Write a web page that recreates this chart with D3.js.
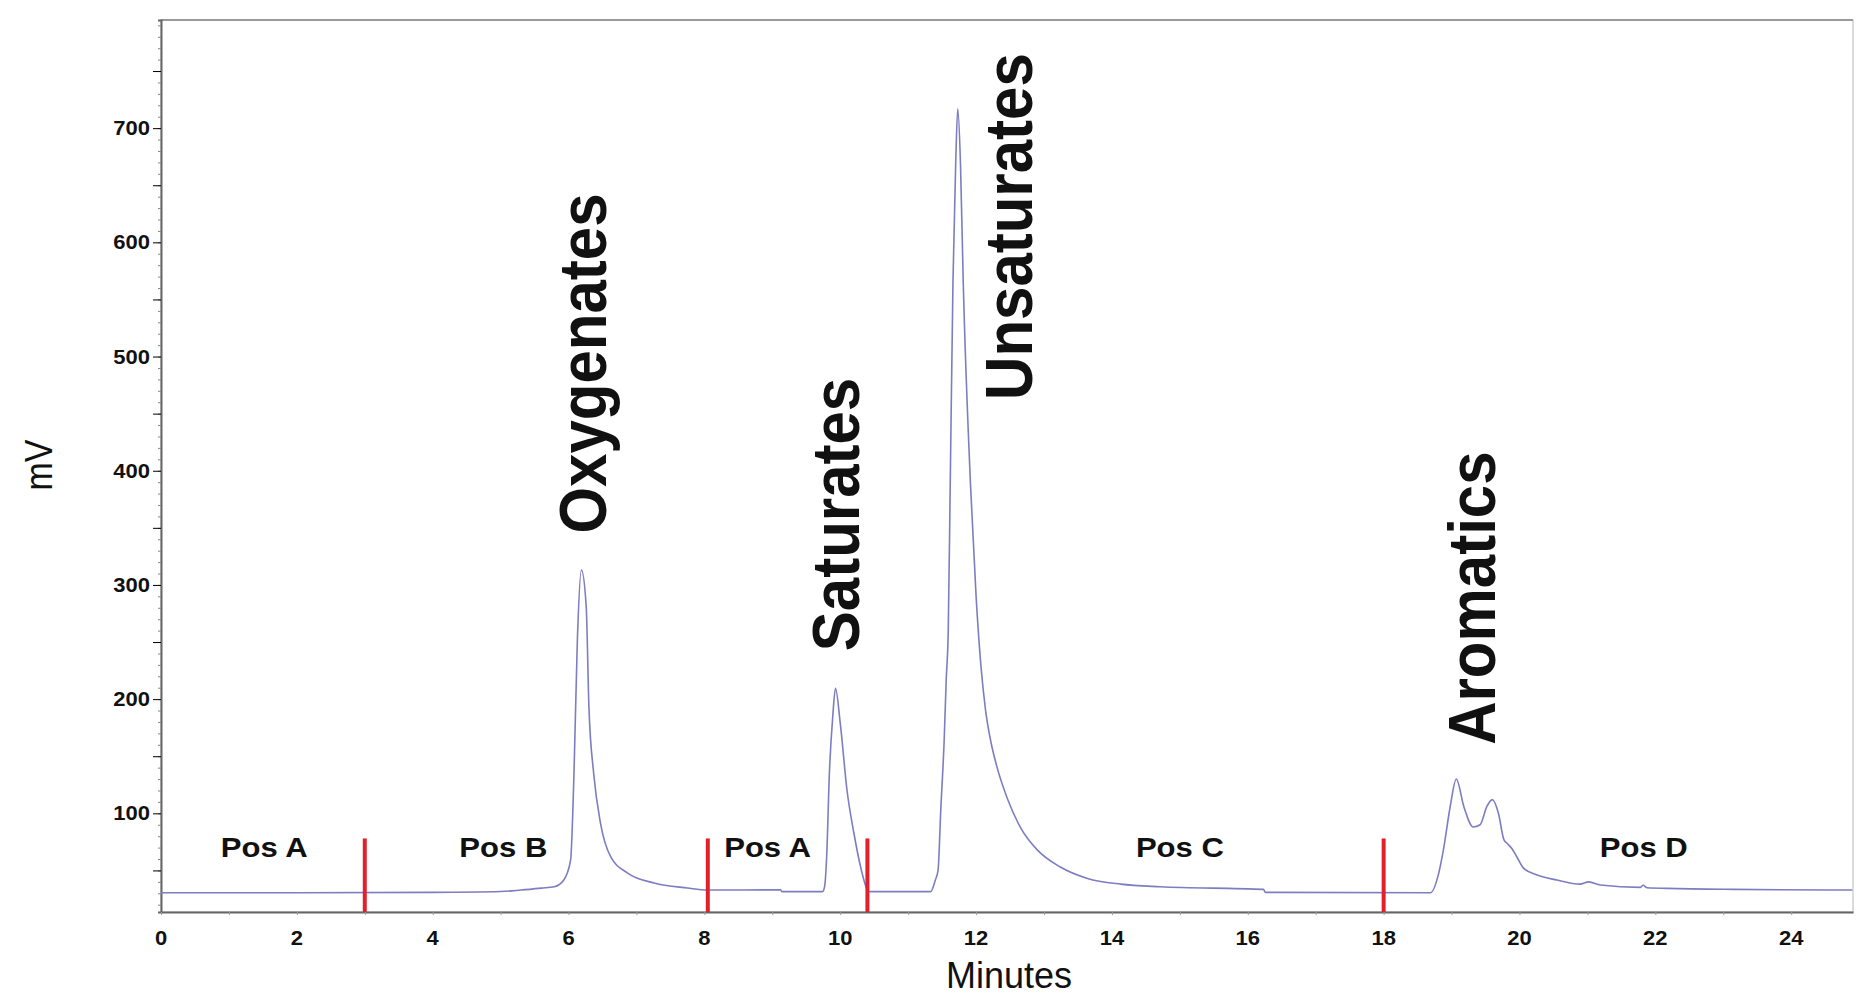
<!DOCTYPE html>
<html>
<head>
<meta charset="utf-8">
<script src="https://cdnjs.cloudflare.com/ajax/libs/d3/7.8.5/d3.min.js"></script>
<style>
  body { margin: 0; background: #fff; }
  text { font-family: "Liberation Sans", Arial, sans-serif; fill: #111; }
</style>
</head>
<body>
<div id="svg-container"></div>
<script>
// detector trace: time (min) and signal (mV)
const minutes = [0, 2, 4, 5, 5.3, 5.6, 5.79, 5.93, 6.03, 6.08, 6.13, 6.19, 6.26, 6.3, 6.37, 6.47, 6.62, 6.87, 7.26, 7.75, 8.04, 9.12, 9.14, 9.74,
  9.77, 9.8, 9.84, 9.89, 9.93, 10.0, 10.1, 10.2, 10.3, 10.4, 10.43, 11.33, 11.4, 11.44, 11.48, 11.53, 11.56, 11.59, 11.62, 11.66, 11.7, 11.73,
  11.77, 11.81, 11.92, 12.0, 12.07, 12.14, 12.22, 12.31, 12.46, 12.65, 12.9, 13.24, 13.64, 14.13, 14.71, 16.23, 16.26, 18.69, 18.8, 18.88, 18.98, 19.07,
  19.18, 19.32, 19.42, 19.52, 19.6, 19.69, 19.77, 19.83, 19.89, 19.96, 20.06, 20.26, 20.55, 20.89, 21.02, 21.19, 21.78, 21.82, 21.88, 22.17,
  23.15, 24.9];
const mV = [30.5, 30.5, 30.8, 31.5, 32.8, 34.5, 35.7, 41.6, 59, 135, 252, 313, 281, 193, 135, 91.5, 62, 47.7, 39, 34.6, 32.8, 33, 31.4, 31.4,
  36, 62, 135, 185, 209.5, 179, 120, 83, 53, 33, 31.4, 31.4, 41.6, 50, 103, 164, 217, 260, 392, 567, 670, 717,
  669, 567, 385, 290, 230, 190, 162, 140, 113, 88, 68, 53, 43, 38, 35.7, 33.4, 30.8, 30.5, 45, 68, 106, 130,
  106, 88, 90, 106, 112, 100, 77, 73, 69, 62, 52, 46, 41.6, 38, 40, 37.2, 35.2, 37, 34.8, 34.3,
  33.4, 32.8];

// axis ticks
const xTicks = [0, 2, 4, 6, 8, 10, 12, 14, 16, 18, 20, 22, 24];
const yTicks = [100, 200, 300, 400, 500, 600, 700];

// valve switch marks (red bars)
const switchTimes = [3, 8.05, 10.4, 18];
const switchTop = 78;

// valve position labels
const posNames = ["Pos A", "Pos B", "Pos A", "Pos C", "Pos D"];
const posTimes = [1.52, 5.04, 8.93, 15.0, 21.83];
const posLevel = 62;

// peak group labels (rotated)
const peakNames = ["Oxygenates", "Saturates", "Unsaturates", "Aromatics"];
const peakTimes = [6.55, 10.27, 12.83, 19.64];
const peakLevels = [345, 242, 462, 160];

const width = 1860;
const height = 997;
const margin = {top: 20, right: 7, bottom: 85, left: 161};

const svg = d3.select("#svg-container")
    .append("svg")
    .attr("width", width)
    .attr("height", height);

const x = d3.scaleLinear()
    .domain([0, 24.91])
    .range([margin.left, width - margin.right]);

const y = d3.scaleLinear()
    .domain([13.6, 794.7])
    .range([height - margin.bottom, margin.top]);

// frame
svg.append("rect")
    .attr("x", margin.left)
    .attr("y", margin.top)
    .attr("width", width - margin.right - margin.left)
    .attr("height", height - margin.bottom - margin.top)
    .attr("fill", "none")
    .attr("stroke", "#d0d0d0")
    .attr("stroke-width", 1.5);
svg.append("line")
    .attr("x1", margin.left).attr("x2", width - margin.right)
    .attr("y1", margin.top).attr("y2", margin.top)
    .attr("stroke", "#999")
    .attr("stroke-width", 2);

// left axis: minor ticks every 10 mV, bigger every 50
const yAxis = svg.append("g")
    .attr("transform", `translate(${margin.left},0)`)
    .call(d3.axisLeft(y).tickValues(d3.range(20, 795, 10)).tickSize(3).tickFormat(""));
svg.append("g")
    .attr("transform", `translate(${margin.left},0)`)
    .call(d3.axisLeft(y).tickValues(d3.range(50, 795, 50)).tickSize(8).tickFormat(""))
    .select(".domain").remove();
yAxis.selectAll("line").attr("stroke", "#888");
yAxis.select(".domain").attr("stroke", "#666").attr("stroke-width", 2);

// bottom axis
const xAxis = svg.append("g")
    .attr("transform", `translate(0,${height - margin.bottom})`)
    .call(d3.axisBottom(x).tickValues(d3.range(0, 25, 1)).tickSize(3).tickFormat("").tickSizeOuter(0));
xAxis.selectAll("line").attr("stroke", "#999");
xAxis.select(".domain").attr("stroke", "#666").attr("stroke-width", 2);

// tick labels
svg.append("g").selectAll("text")
    .data(yTicks)
    .join("text")
    .attr("transform", d => `translate(150,${y(d) + 7}) scale(1.1,1)`)
    .attr("text-anchor", "end")
    .attr("font-size", 20)
    .attr("font-weight", "bold")
    .text(d => d);

svg.append("g").selectAll("text")
    .data(xTicks)
    .join("text")
    .attr("transform", d => `translate(${x(d)},945) scale(1.1,1)`)
    .attr("text-anchor", "middle")
    .attr("font-size", 20)
    .attr("font-weight", "bold")
    .text(d => d);

// axis titles
svg.append("text")
    .attr("transform", "translate(52,465) scale(1.12,1) rotate(-90)")
    .attr("text-anchor", "middle")
    .attr("font-size", 34)
    .text("mV");

svg.append("text")
    .attr("x", 1009)
    .attr("y", 988)
    .attr("text-anchor", "middle")
    .attr("font-size", 36)
    .text("Minutes");

// trace
const trace = minutes.map((t, i) => ({t: t, v: mV[i]}));
const line = d3.line()
    .x(d => x(d.t))
    .y(d => y(d.v))
    .curve(d3.curveMonotoneX);

svg.append("path")
    .datum(trace)
    .attr("fill", "none")
    .attr("stroke", "#7d7dc2")
    .attr("stroke-width", 1.6)
    .attr("d", line);

// valve switch bars
svg.append("g").selectAll("line")
    .data(switchTimes)
    .join("line")
    .attr("x1", d => x(d))
    .attr("x2", d => x(d))
    .attr("y1", y(switchTop))
    .attr("y2", height - margin.bottom)
    .attr("stroke", "#e0202c")
    .attr("stroke-width", 4);

// position labels
svg.append("g").selectAll("text")
    .data(posNames)
    .join("text")
    .attr("transform", (d, i) => `translate(${x(posTimes[i])},${y(posLevel)}) scale(1.15,1)`)
    .attr("text-anchor", "middle")
    .attr("font-size", 27)
    .attr("font-weight", "bold")
    .text(d => d);

// peak labels
svg.append("g").selectAll("text")
    .data(peakNames)
    .join("text")
    .attr("transform", (d, i) => `translate(${x(peakTimes[i])},${y(peakLevels[i])}) scale(1.12,1) rotate(-90)`)
    .attr("font-size", 60)
    .attr("font-weight", "bold")
    .text(d => d);
</script>
</body>
</html>
